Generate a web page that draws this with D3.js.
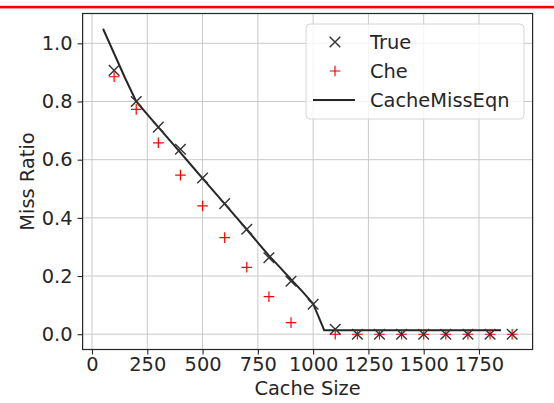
<!DOCTYPE html>
<html><head><meta charset="utf-8">
<script src="https://cdn.jsdelivr.net/npm/d3@7"></script>
<style>
html,body{margin:0;padding:0;background:#fff;}
svg{display:block;font-family:"DejaVu Sans",sans-serif;}
</style></head>
<body><svg id="c" width="554" height="403"></svg>
<script>
const cacheSizes = [100,200,300,400,500,600,700,800,900,1000,1100,1200,1300,1400,1500,1600,1700,1800,1900];
const trueMiss = [0.907,0.800,0.712,0.636,0.537,0.449,0.361,0.263,0.182,0.103,0.017,0.0,0.0,0.0,0.0,0.0,0.0,0.0,0.0];
const cheMiss  = [0.885,0.773,0.658,0.547,0.441,0.332,0.230,0.129,0.040,null,0.0,0.0,0.0,0.0,0.0,0.0,0.0,0.0,0.0];
const eqnSizes = [50,100,150,200,250,300,350,400,450,500,550,600,650,700,750,800,850,900,950,1000,1050,1100,1200,1300,1400,1500,1600,1700,1800,1850];
const eqnMiss  = [1.05,0.965,0.88,0.80,0.756,0.712,0.668,0.624,0.58,0.536,0.492,0.448,0.404,0.36,0.315,0.27,0.23,0.188,0.148,0.105,0.014,0.014,0.014,0.014,0.014,0.014,0.014,0.014,0.014,0.014];
const xTicks = [0,250,500,750,1000,1250,1500,1750];
const yTicks = [0.0,0.2,0.4,0.6,0.8,1.0];
const seriesNames = ["True","Che","CacheMissEqn"];

const svg = d3.select("#c");
const L=82.6, R=532.6, T=13.5, B=349.5;
const x = d3.scaleLinear().domain([-42.5,1992.5]).range([L,R]);
const y = d3.scaleLinear().domain([-0.0525,1.1025]).range([B,T]);
const txt="#262626", fs=19.4;

// red line at top
svg.append("rect").attr("x",0).attr("y",5.8).attr("width",554).attr("height",2.6).attr("fill","#ff0000");

// grid
const g = svg.append("g");
g.selectAll(".gx").data(xTicks).join("line")
  .attr("x1",d=>x(d)).attr("x2",d=>x(d)).attr("y1",T).attr("y2",B)
  .attr("stroke","#c9c9c9").attr("stroke-width",1);
g.selectAll(".gy").data(yTicks).join("line")
  .attr("y1",d=>y(d)).attr("y2",d=>y(d)).attr("x1",L).attr("x2",R)
  .attr("stroke","#c9c9c9").attr("stroke-width",1);

// axes
const xa = svg.append("g").attr("transform",`translate(0,${B})`)
  .call(d3.axisBottom(x).tickValues(xTicks).tickFormat(d3.format("d")).tickSize(5).tickPadding(3));
const ya = svg.append("g").attr("transform",`translate(${L},0)`)
  .call(d3.axisLeft(y).tickValues(yTicks).tickFormat(d3.format(".1f")).tickSize(5).tickPadding(5));
[xa,ya].forEach(a=>{
  a.select(".domain").remove();
  a.selectAll("line").attr("stroke",txt).attr("stroke-width",1.1);
  a.selectAll("text").attr("fill",txt).attr("font-size",fs).attr("font-family","DejaVu Sans");
});

// frame
svg.append("rect").attr("x",L).attr("y",T).attr("width",R-L).attr("height",B-T)
  .attr("fill","none").attr("stroke",txt).attr("stroke-width",1.2);

// labels
svg.append("text").attr("x",(L+R)/2).attr("y",395).attr("text-anchor","middle")
  .attr("fill",txt).attr("font-size",fs).text("Cache Size");
svg.append("text").attr("transform",`translate(34,${(T+B)/2}) rotate(-90)`).attr("text-anchor","middle")
  .attr("fill",txt).attr("font-size",fs).text("Miss Ratio");

const plot = svg.append("g");
// line
plot.append("path").datum(eqnSizes.map((s,i)=>[s,eqnMiss[i]]))
  .attr("d",d3.line().x(d=>x(d[0])).y(d=>y(d[1])))
  .attr("fill","none").attr("stroke","#262626").attr("stroke-width",2);

const cross = (sel, h) => sel.append("path").attr("d",`M${-h},${-h}L${h},${h}M${-h},${h}L${h},${-h}`);
const plus = (sel, h) => sel.append("path").attr("d",`M${-h},0L${h},0M0,${-h}L0,${h}`);

// Che markers
cacheSizes.forEach((s,i)=>{
  if (cheMiss[i] === null) return;
  const m = plot.append("g").attr("transform",`translate(${x(s)},${y(cheMiss[i])})`);
  plus(m,5.3).attr("stroke","#ff0000").attr("stroke-width",1.2).attr("fill","none");
});
// True markers
cacheSizes.forEach((s,i)=>{
  const m = plot.append("g").attr("transform",`translate(${x(s)},${y(trueMiss[i])})`);
  cross(m,5.3).attr("stroke","#333333").attr("stroke-width",1.4).attr("fill","none");
});

// legend
const lg = svg.append("g");
lg.append("rect").attr("x",306).attr("y",24).attr("width",218).attr("height",95).attr("rx",4)
  .attr("fill","rgba(255,255,255,0.8)").attr("stroke","#d6d6d6").attr("stroke-width",1);
const rowsY=[42,71,100];
const m0 = lg.append("g").attr("transform",`translate(335,${rowsY[0]})`);
cross(m0,5.3).attr("stroke","#333333").attr("stroke-width",1.4);
const m1 = lg.append("g").attr("transform",`translate(335,${rowsY[1]})`);
plus(m1,5.3).attr("stroke","#ff0000").attr("stroke-width",1.2);
lg.append("line").attr("x1",313).attr("x2",355).attr("y1",rowsY[2]).attr("y2",rowsY[2])
  .attr("stroke","#262626").attr("stroke-width",2);
seriesNames.forEach((n,i)=>{
  lg.append("text").attr("x",370).attr("y",rowsY[i]+7).attr("fill",txt).attr("font-size",fs).text(n);
});
</script></body></html>
